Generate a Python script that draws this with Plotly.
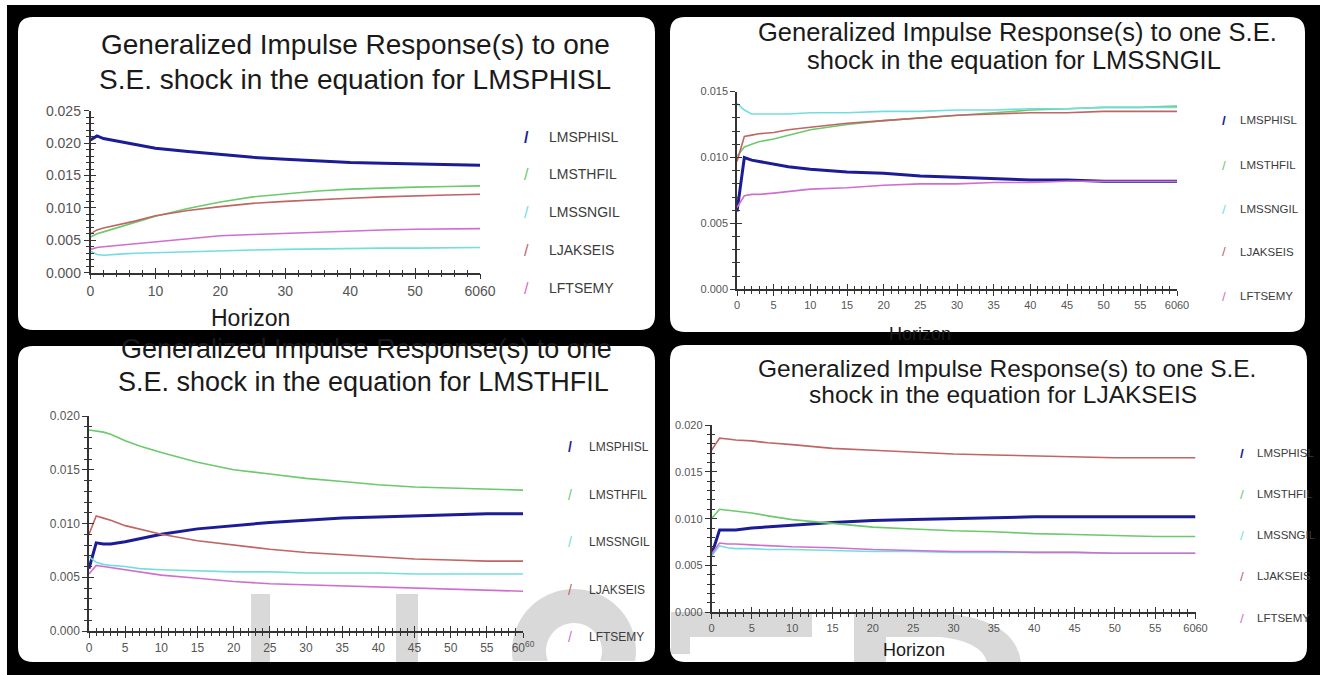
import math
import plotly.graph_objects as go

W, H = 1320, 675

# ---------------- data ----------------
HORIZON = [0, 1, 2, 3, 5, 7, 10, 15, 20, 25, 30, 35, 40, 45, 50, 55, 60]
SERIES = ["LMSPHISL", "LMSTHFIL", "LMSSNGIL", "LJAKSEIS", "LFTSEMY"]

# Panel 1: shock in the equation for LMSPHISL
p1_LMSPHISL = [.0205, .0211, .0207, .0205, .0201, .0197, .0192, .0187, .0182, .0178, .0175, .0172, .0170, .0169, .0168, .0167, .0166]
p1_LMSTHFIL = [.0055, .0060, .0063, .0066, .0071, .0077, .0087, .0099, .0109, .0117, .0122, .0126, .0129, .0131, .0132, .0133, .0134]
p1_LMSSNGIL = [.0033, .0028, .0027, .0028, .0029, .0030, .0031, .0032, .0034, .0035, .0036, .0037, .0038, .0038, .0038, .0039, .0039]
p1_LJAKSEIS = [.0060, .0066, .0069, .0071, .0075, .0080, .0088, .0096, .0102, .0107, .0110, .0113, .0115, .0117, .0119, .0120, .0121]
p1_LFTSEMY = [.0036, .0039, .0040, .0041, .0043, .0045, .0048, .0053, .0057, .0059, .0061, .0063, .0065, .0066, .0067, .0067, .0068]

# Panel 2: shock in the equation for LMSSNGIL
p2_LMSPHISL = [.0059, .0100, .0098, .0097, .0095, .0093, .0091, .0089, .0088, .0086, .0085, .0084, .0083, .0083, .0082, .0082, .0082]
p2_LMSTHFIL = [.0101, .0108, .0110, .0112, .0114, .0117, .0121, .0125, .0128, .0130, .0132, .0134, .0136, .0137, .0138, .0138, .0139]
p2_LMSSNGIL = [.0141, .0136, .0133, .0133, .0133, .0133, .0134, .0134, .0135, .0135, .0136, .0136, .0137, .0137, .0138, .0138, .0138]
p2_LJAKSEIS = [.0097, .0116, .0117, .0118, .0119, .0121, .0123, .0126, .0128, .0130, .0132, .0133, .0134, .0134, .0135, .0135, .0135]
p2_LFTSEMY = [.0062, .0071, .0072, .0072, .0073, .0074, .0076, .0077, .0079, .0080, .0080, .0081, .0081, .0082, .0082, .0082, .0082]

# Panel 3: shock in the equation for LMSTHFIL
p3_LMSPHISL = [.0058, .0082, .0081, .0081, .0083, .0086, .0090, .0095, .0098, .0101, .0103, .0105, .0106, .0107, .0108, .0109, .0109]
p3_LMSTHFIL = [.0187, .0186, .0185, .0183, .0177, .0172, .0166, .0157, .0150, .0146, .0142, .0139, .0136, .0134, .0133, .0132, .0131]
p3_LMSSNGIL = [.0069, .0064, .0062, .0061, .0060, .0058, .0057, .0056, .0055, .0055, .0054, .0054, .0054, .0053, .0053, .0053, .0053]
p3_LJAKSEIS = [.0090, .0107, .0105, .0103, .0098, .0095, .0090, .0084, .0080, .0076, .0073, .0071, .0069, .0067, .0066, .0065, .0065]
p3_LFTSEMY = [.0053, .0061, .0060, .0059, .0057, .0055, .0052, .0049, .0046, .0044, .0043, .0042, .0041, .0040, .0039, .0038, .0037]

# Panel 4: shock in the equation for LJAKSEIS
p4_LMSPHISL = [.0061, .0088, .0088, .0088, .0090, .0091, .0093, .0096, .0098, .0099, .0100, .0101, .0102, .0102, .0102, .0102, .0102]
p4_LMSTHFIL = [.0100, .0110, .0109, .0108, .0106, .0103, .0099, .0095, .0091, .0089, .0087, .0086, .0084, .0083, .0082, .0081, .0081]
p4_LMSSNGIL = [.0060, .0071, .0069, .0068, .0068, .0067, .0067, .0066, .0065, .0065, .0064, .0064, .0064, .0064, .0063, .0063, .0063]
p4_LJAKSEIS = [.0173, .0186, .0185, .0184, .0183, .0181, .0179, .0175, .0173, .0171, .0169, .0168, .0167, .0166, .0165, .0165, .0165]
p4_LFTSEMY = [.0062, .0074, .0073, .0073, .0072, .0071, .0070, .0069, .0067, .0066, .0065, .0065, .0064, .0064, .0063, .0063, .0063]

TITLES = [
    ("Generalized Impulse Response(s) to one", "S.E. shock in the equation for LMSPHISL"),
    ("Generalized Impulse Response(s) to one S.E.", "shock in the equation for LMSSNGIL"),
    ("Generalized Impulse Response(s) to one", "S.E. shock in the equation for LMSTHFIL"),
    ("Generalized Impulse Response(s) to one S.E.", "shock in the equation for LJAKSEIS"),
]
Y_TICKS = [
    [0.000, 0.005, 0.010, 0.015, 0.020, 0.025],
    [0.000, 0.005, 0.010, 0.015],
    [0.000, 0.005, 0.010, 0.015, 0.020],
    [0.000, 0.005, 0.010, 0.015, 0.020],
]
X_TICKS_10 = [0, 10, 20, 30, 40, 50, 60]
X_TICKS_5 = [0, 5, 10, 15, 20, 25, 30, 35, 40, 45, 50, 55, 60]
X_TICKTEXT_10 = ["0", "10", "20", "30", "40", "50", "6060"]
X_TICKTEXT_5 = ["0", "5", "10", "15", "20", "25", "30", "35", "40", "45", "50", "55", "6060"]
X_TICKTEXT_5_SUP = X_TICKTEXT_5[:-1] + ["60<sup>60</sup>"]

PANEL_DATA = [
    [p1_LMSPHISL, p1_LMSTHFIL, p1_LMSSNGIL, p1_LJAKSEIS, p1_LFTSEMY],
    [p2_LMSPHISL, p2_LMSTHFIL, p2_LMSSNGIL, p2_LJAKSEIS, p2_LFTSEMY],
    [p3_LMSPHISL, p3_LMSTHFIL, p3_LMSSNGIL, p3_LJAKSEIS, p3_LFTSEMY],
    [p4_LMSPHISL, p4_LMSTHFIL, p4_LMSSNGIL, p4_LJAKSEIS, p4_LFTSEMY],
]

# ---------------- styling / layout ----------------
COLORS = ["#1c1c96", "#6cc96c", "#74dede", "#c06464", "#d06ed0"]
WIDTHS = [3.0, 1.6, 1.6, 1.6, 1.6]
FONT = "Liberation Sans, Arial, sans-serif"
AX = "#333333"
TICKFONT = "#555555"
TEXT = "#1a1a1a"
LEGTEXT = "#3c3c3c"


def X(px):
    return px / W


def Y(py):
    return 1 - py / H


PANELS = [
    dict(box=(18, 17, 655, 330), xpx=(90.5, 480), ypx=(272.7, 110.7), yr=0.025,
         xt=(X_TICKS_10, X_TICKTEXT_10), xminor=2, fs=14,
         title=[(355, 45), (355, 80)], tfs=28,
         leg=dict(sx=526, tx=547, ys=[137, 174, 212, 250, 288], fs=14),
         horizon=(250, 318, 23)),
    dict(box=(670, 17, 1305, 332), xpx=(737, 1177), ypx=(289.3, 91.6), yr=0.015,
         xt=(X_TICKS_5, X_TICKTEXT_5), xminor=1, fs=11,
         title=[(1017, 32), (1014, 60)], tfs=25.5,
         leg=dict(sx=1224, tx=1238, ys=[120, 165, 209, 252, 296], fs=11.5),
         horizon=(920, 334, 18)),
    dict(box=(18, 346, 655, 662), xpx=(89, 523), ypx=(631, 416), yr=0.020,
         xt=(X_TICKS_5, X_TICKTEXT_5_SUP), xminor=1, fs=12,
         title=[(366, 349), (363, 382)], tfs=27,
         leg=dict(sx=570, tx=587, ys=[447, 495, 542, 590, 637], fs=12),
         horizon=None),
    dict(box=(670, 345, 1307, 662), xpx=(711.5, 1195.5), ypx=(612.3, 425), yr=0.020,
         xt=(X_TICKS_5, X_TICKTEXT_5), xminor=1, fs=11,
         title=[(1007, 368), (1003, 395)], tfs=24.5,
         leg=dict(sx=1242, tx=1255, ys=[453, 494, 535, 576, 618], fs=11.5),
         horizon=(914, 650, 18)),
]


def fmt(a, b):
    return f"{X(a):.5f},{Y(b):.5f}"


def rounded_box(x0, y0, x1, y1, r):
    return " ".join([
        f"M {fmt(x0 + r, y0)}", f"L {fmt(x1 - r, y0)}",
        f"Q {fmt(x1, y0)} {fmt(x1, y0 + r)}", f"L {fmt(x1, y1 - r)}",
        f"Q {fmt(x1, y1)} {fmt(x1 - r, y1)}", f"L {fmt(x0 + r, y1)}",
        f"Q {fmt(x0, y1)} {fmt(x0, y1 - r)}", f"L {fmt(x0, y0 + r)}",
        f"Q {fmt(x0, y0)} {fmt(x0 + r, y0)}", "Z",
    ])


def poly(points):
    return "M " + " L ".join(fmt(a, b) for a, b in points) + " Z"


def ring_cut(cx, cy, r_out, r_in, ycut, steps=40):
    """Annulus portion lying above the horizontal line y = ycut (screen pixels)."""
    pts = []
    a_out = math.asin((ycut - cy) / r_out)
    a_in = math.asin((ycut - cy) / r_in)
    for k in range(steps + 1):
        t = -a_out + (math.pi + 2 * a_out) * k / steps
        pts.append((cx + r_out * math.cos(t), cy - r_out * math.sin(t)))
    for k in range(steps + 1):
        t = (math.pi + a_in) - (math.pi + 2 * a_in) * k / steps
        pts.append((cx + r_in * math.cos(t), cy - r_in * math.sin(t)))
    return poly(pts)


fig = go.Figure()
shapes = []
annotations = []


def add_path(path, color):
    shapes.append(dict(type="path", xref="paper", yref="paper", path=path,
                       fillcolor=color, line=dict(width=0), layer="below"))


def add_rect(x0, y0, x1, y1, color):
    shapes.append(dict(type="rect", xref="paper", yref="paper", x0=X(x0), x1=X(x1),
                       y0=Y(y1), y1=Y(y0), fillcolor=color, line=dict(width=0), layer="below"))


# black frame and white rounded boxes
add_rect(7, 5, 1320, 675, "black")
for p in PANELS:
    add_path(rounded_box(*p["box"], 15), "white")

# faint watermark (kept inside the boxes)
WM = "#d9d9d9"
add_rect(251, 594, 270, 662, WM)
add_rect(396, 594, 418, 662, WM)
add_path(ring_cut(574, 651, 62, 28, 661), WM)
add_path(poly([(671, 612), (812, 612), (812, 637), (690, 637), (690, 654), (671, 654)]), WM)
add_path(f"M {fmt(854, 662)} L {fmt(854, 613)} L {fmt(940, 613)} "
         f"Q {fmt(1015, 618)} {fmt(1021, 662)} Z", WM)
add_path(f"M {fmt(886, 662)} L {fmt(886, 637)} L {fmt(940, 637)} "
         f"Q {fmt(981, 641)} {fmt(987, 662)} Z", "white")

layout_axes = {}
for i, p in enumerate(PANELS):
    n = i + 1
    m = n + 4
    xname = "xaxis" if n == 1 else f"xaxis{n}"
    yname = "yaxis" if n == 1 else f"yaxis{n}"
    xref = "x" if n == 1 else f"x{n}"
    yref = "y" if n == 1 else f"y{n}"
    xdom = [X(p["xpx"][0]), X(p["xpx"][1])]
    ydom = [Y(p["ypx"][0]), Y(p["ypx"][1])]
    tickfont = dict(family=FONT, size=p["fs"], color=TICKFONT)

    for s, name in enumerate(SERIES):
        fig.add_trace(go.Scatter(
            x=HORIZON, y=PANEL_DATA[i][s], mode="lines", name=name,
            line=dict(color=COLORS[s], width=WIDTHS[s]),
            xaxis=xref, yaxis=yref, showlegend=False, hoverinfo="skip"))
    fig.add_trace(go.Scatter(
        x=HORIZON, y=PANEL_DATA[i][0], mode="lines", line=dict(width=0),
        opacity=0, xaxis=f"x{m}", yaxis=f"y{m}", showlegend=False, hoverinfo="skip"))

    common = dict(showgrid=False, zeroline=False, automargin=False, fixedrange=True)
    layout_axes[xname] = dict(
        domain=xdom, anchor=yref, range=[0, 60],
        showline=True, linecolor=AX, linewidth=1.5,
        tickmode="array", tickvals=p["xt"][0], ticktext=p["xt"][1],
        ticks="outside", ticklen=5, tickwidth=1.2, tickcolor=AX, tickfont=tickfont,
        minor=dict(tickmode="linear", tick0=0, dtick=p["xminor"], ticks="outside",
                   ticklen=3, tickwidth=1, tickcolor=AX), **common)
    layout_axes[yname] = dict(
        domain=ydom, anchor=xref, range=[0, p["yr"]],
        showline=True, linecolor=AX, linewidth=1.5,
        tickmode="array", tickvals=Y_TICKS[i], ticktext=[f"{v:.3f}" for v in Y_TICKS[i]],
        ticks="outside", ticklen=5, tickwidth=1.2, tickcolor=AX, tickfont=tickfont,
        minor=dict(tickmode="linear", tick0=0, dtick=0.001, ticks="outside",
                   ticklen=3, tickwidth=1, tickcolor=AX), **common)
    layout_axes[f"xaxis{m}"] = dict(
        domain=xdom, anchor=f"y{m}", overlaying=xref, range=[0, 60],
        showline=False, showticklabels=False,
        tickmode="array", tickvals=p["xt"][0], ticks="inside", ticklen=5, tickwidth=1.2,
        tickcolor=AX,
        minor=dict(tickmode="linear", tick0=0, dtick=p["xminor"], ticks="inside",
                   ticklen=3, tickwidth=1, tickcolor=AX), **common)
    layout_axes[f"yaxis{m}"] = dict(
        domain=ydom, anchor=f"x{m}", overlaying=yref, range=[0, p["yr"]],
        showline=False, showticklabels=False, side="left",
        tickmode="array", tickvals=Y_TICKS[i], ticks="inside", ticklen=5, tickwidth=1.2,
        tickcolor=AX,
        minor=dict(tickmode="linear", tick0=0, dtick=0.001, ticks="inside",
                   ticklen=3, tickwidth=1, tickcolor=AX), **common)

    for (cx, cy), line in zip(p["title"], TITLES[i]):
        annotations.append(dict(xref="paper", yref="paper", x=X(cx), y=Y(cy), text=line,
                                showarrow=False, xanchor="center", yanchor="middle",
                                font=dict(family=FONT, size=p["tfs"], color=TEXT)))
    lg = p["leg"]
    for s, name in enumerate(SERIES):
        annotations.append(dict(xref="paper", yref="paper", x=X(lg["sx"]), y=Y(lg["ys"][s]),
                                text="<b>/</b>" if s == 0 else "/", showarrow=False,
                                xanchor="center", yanchor="middle",
                                font=dict(family=FONT, size=lg["fs"] + 2, color=COLORS[s])))
        annotations.append(dict(xref="paper", yref="paper", x=X(lg["tx"]), y=Y(lg["ys"][s]),
                                text=name, showarrow=False, xanchor="left", yanchor="middle",
                                font=dict(family=FONT, size=lg["fs"], color=LEGTEXT)))
    if p["horizon"]:
        hx, hy, hs = p["horizon"]
        annotations.append(dict(xref="paper", yref="paper", x=X(hx), y=Y(hy), text="Horizon",
                                showarrow=False, xanchor="center", yanchor="middle",
                                font=dict(family=FONT, size=hs, color=TEXT)))

fig.update_layout(
    width=W, height=H, autosize=False,
    margin=dict(l=0, r=0, t=0, b=0, pad=0, autoexpand=False),
    paper_bgcolor="white", plot_bgcolor="rgba(0,0,0,0)",
    showlegend=False, shapes=shapes, annotations=annotations,
    font=dict(family=FONT),
    **layout_axes,
)

fig.write_html("out.html", config={"displayModeBar": False},
               post_script="document.body.style.margin='0px';")
